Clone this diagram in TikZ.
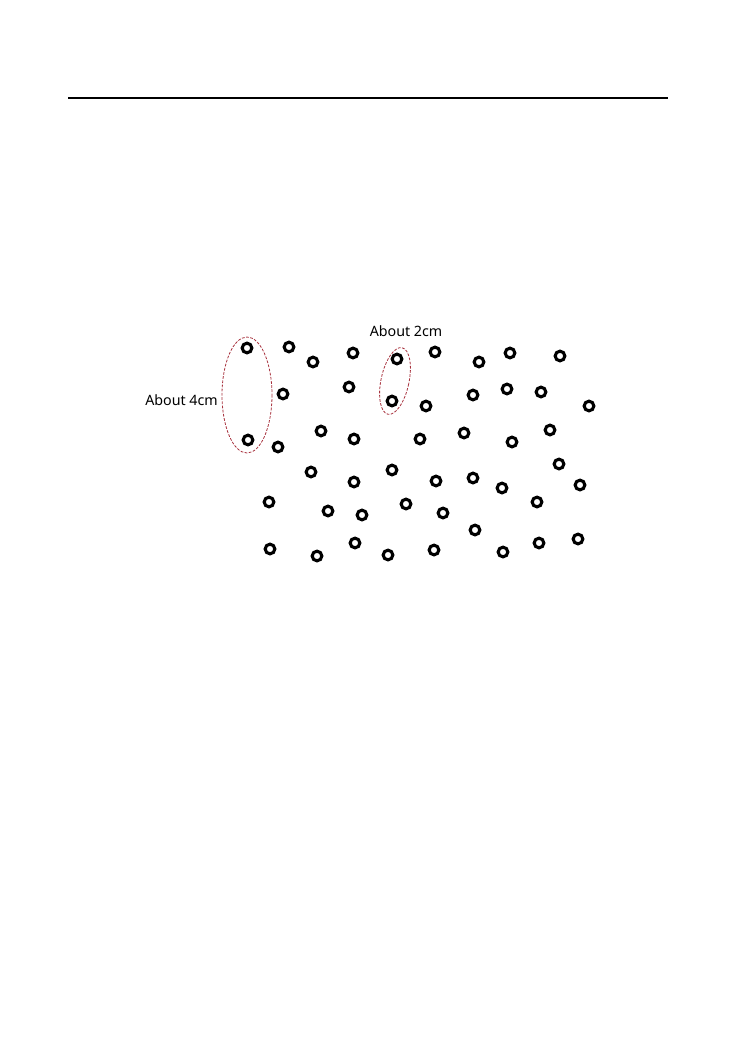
\documentclass[tikz,border=0pt]{standalone}
\usepackage{fontspec}
\setmainfont{Noto Sans}
\usepackage{xcolor}
\usepackage{tikz}
\definecolor{CRing}{HTML}{000000}
\definecolor{CMark}{HTML}{A8323E}

\begin{document}
\begin{tikzpicture}[x=0.807pt, y=-0.807pt,
  ring/.style={draw=CRing, circle, line width=2.5pt, minimum size=7.8pt, inner sep=0pt},
  markloop/.style={draw=CMark, dash pattern=on 2.2pt off 1.2pt, line width=0.65pt},
  sizelabel/.style={font=\fontsize{11.5}{13}\selectfont, text=black, inner sep=0pt}]
\useasboundingbox (0,0) rectangle (737,1044);
\draw[line width=0.9pt] (68,98) -- (668,98);
% rings, row by row
\foreach \px/\py [count=\i] in {247/348, 289/347, 313/362, 353/353, 397/359, 435/352, 479/362, 510/353, 560/356,
  283/394, 349/387, 392/401, 426/406, 473/395, 507/389, 541/392, 589/406,
  248/440, 278/447, 321/431, 354/439, 420/439, 464/433, 512/442, 550/430,
  311/472, 354/482, 392/470, 436/481, 473/478, 502/488, 559/464, 580/485,
  269/502, 328/511, 362/515, 406/504, 443/513, 475/530, 537/502,
  270/549, 317/556, 355/543, 388/555, 434/550, 503/552, 539/543, 578/539}{
  \node[ring] (r\i) at (\px,\py) {};
}
\draw[markloop] (247,395) ellipse [x radius=25, y radius=58];
\draw[markloop] (395,381) ellipse [x radius=14, y radius=34, rotate=-12];
\node[sizelabel, anchor=east] (far) at (218,400) {About 4cm};
\node[sizelabel] (near) at (406,331) {About 2cm};
\end{tikzpicture}
\end{document}
